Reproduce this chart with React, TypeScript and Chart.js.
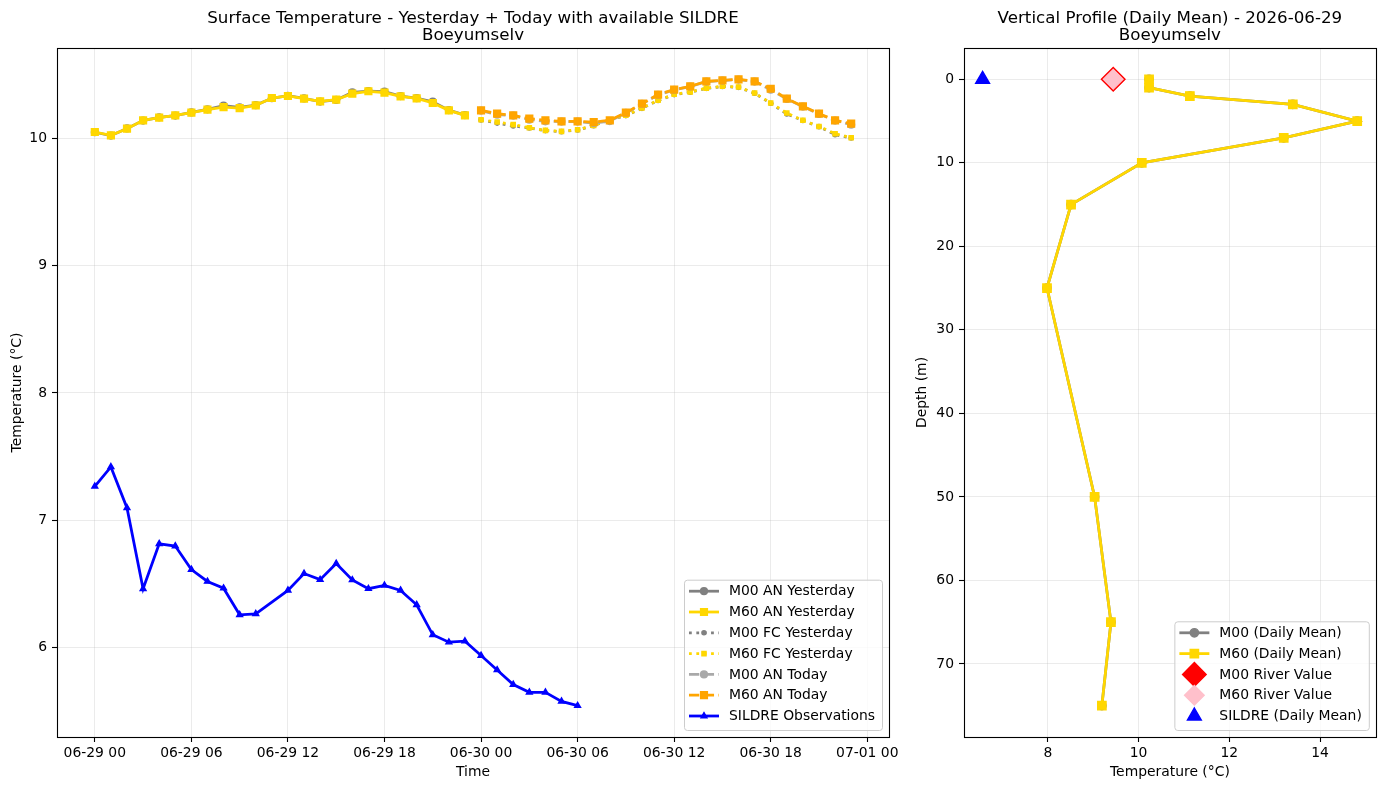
import React, { useEffect, useRef } from 'react';
import { Chart, registerables } from 'chart.js';

Chart.register(...registerables);

// ---------------- DATA ----------------
const xTickHours = [0, 6, 12, 18, 24, 30, 36, 42, 48];
const xTickLabels = ['06-29 00', '06-29 06', '06-29 12', '06-29 18', '06-30 00', '06-30 06', '06-30 12', '06-30 18', '07-01 00'];
const leftYTicks = [6, 7, 8, 9, 10];

const yesterdayHours = [0, 1, 2, 3, 4, 5, 6, 7, 8, 9, 10, 11, 12, 13, 14, 15, 16, 17, 18, 19, 20, 21, 22, 23];
const todayHours = [24, 25, 26, 27, 28, 29, 30, 31, 32, 33, 34, 35, 36, 37, 38, 39, 40, 41, 42, 43, 44, 45, 46, 47];

const m00AnYesterday = [10.048, 10.022, 10.078, 10.14, 10.165, 10.179, 10.204, 10.228, 10.258, 10.244, 10.261, 10.315, 10.335, 10.314, 10.289, 10.302, 10.361, 10.372, 10.367, 10.332, 10.316, 10.288, 10.222, 10.183];
const m60AnYesterday = [10.05, 10.024, 10.076, 10.142, 10.163, 10.181, 10.202, 10.226, 10.246, 10.238, 10.259, 10.317, 10.333, 10.312, 10.291, 10.304, 10.351, 10.37, 10.359, 10.33, 10.314, 10.278, 10.22, 10.181];
const m00FcYesterday = [10.145, 10.12, 10.098, 10.082, 10.061, 10.053, 10.066, 10.1, 10.145, 10.179, 10.236, 10.297, 10.344, 10.362, 10.393, 10.407, 10.401, 10.354, 10.276, 10.191, 10.14, 10.092, 10.029, 10.003];
const m60FcYesterday = [10.147, 10.128, 10.108, 10.084, 10.063, 10.055, 10.068, 10.102, 10.147, 10.181, 10.238, 10.299, 10.346, 10.364, 10.395, 10.409, 10.403, 10.356, 10.278, 10.199, 10.142, 10.094, 10.037, 10.005];
const m00AnToday = [10.218, 10.186, 10.179, 10.147, 10.134, 10.132, 10.132, 10.12, 10.136, 10.2, 10.271, 10.342, 10.381, 10.407, 10.446, 10.454, 10.462, 10.446, 10.382, 10.31, 10.25, 10.192, 10.14, 10.108];
const m60AnToday = [10.22, 10.194, 10.181, 10.155, 10.142, 10.134, 10.134, 10.128, 10.142, 10.202, 10.273, 10.344, 10.383, 10.409, 10.448, 10.456, 10.464, 10.448, 10.39, 10.312, 10.252, 10.194, 10.142, 10.116];

const sildreHours = [0, 1, 2, 3, 4, 5, 6, 7, 8, 9, 10, 12, 13, 14, 15, 16, 17, 18, 19, 20, 21, 22, 23, 24, 25, 26, 27, 28, 29, 30];
const sildreObs = [7.266, 7.419, 7.097, 6.461, 6.815, 6.797, 6.613, 6.519, 6.466, 6.257, 6.265, 6.449, 6.581, 6.533, 6.66, 6.531, 6.462, 6.488, 6.449, 6.336, 6.1, 6.042, 6.05, 5.937, 5.824, 5.709, 5.648, 5.648, 5.577, 5.543];

const profileDepths = [0, 1, 2, 3, 5, 7, 10, 15, 25, 50, 65, 75];
const m00Profile = [10.23, 10.23, 11.13, 13.4, 14.82, 13.2, 10.07, 8.51, 7.98, 9.03, 9.39, 9.19];
const m60Profile = [10.23, 10.23, 11.13, 13.4, 14.82, 13.2, 10.07, 8.51, 7.98, 9.03, 9.39, 9.19];
const m00RiverValue = [9.44];
const m60RiverValue = [9.44];
const sildreDailyMean = [6.56];
const surfaceDepth = [0];

const rightXTicks = [8, 10, 12, 14];
const rightYTicks = [0, 10, 20, 30, 40, 50, 60, 70];

// ---------------- STYLE ----------------
const FONT = "'DejaVu Sans', 'Liberation Sans', sans-serif";
const GRID = 'rgba(176,176,176,0.32)';
const LW = 2.78;
const DOTTED = [2.78, 4.58];
const DASHED = [10.3, 4.45];
const EDGE = 1.39;

const pts = (xs: number[], ys: number[]) => xs.map((x, i) => ({ x, y: ys[i] }));

function drawMarker(ctx: CanvasRenderingContext2D, style: string, x: number, y: number, r: number, color: string, bw: number) {
  ctx.save();
  ctx.setLineDash([]);
  ctx.beginPath();
  if (style === 'circle') {
    ctx.arc(x, y, r, 0, Math.PI * 2);
  } else if (style === 'rect') {
    const s = Math.SQRT1_2 * r;
    ctx.rect(x - s, y - s, 2 * s, 2 * s);
  } else if (style === 'triangle') {
    ctx.moveTo(x, y - r);
    ctx.lineTo(x + 0.866 * r, y + 0.5 * r);
    ctx.lineTo(x - 0.866 * r, y + 0.5 * r);
    ctx.closePath();
  } else if (style === 'rectRot') {
    ctx.moveTo(x - r, y);
    ctx.lineTo(x, y - r);
    ctx.lineTo(x + r, y);
    ctx.lineTo(x, y + r);
    ctx.closePath();
  }
  ctx.fillStyle = color;
  ctx.fill();
  if (bw > 0) {
    ctx.lineWidth = bw;
    ctx.strokeStyle = color;
    ctx.stroke();
  }
  ctx.restore();
}

function framePlugin(titleLines: string[]) {
  return {
    id: 'mplFrame',
    afterDatasetsDraw(chart: any) {
      const { ctx, chartArea: a } = chart;
      ctx.save();
      ctx.strokeStyle = '#000';
      ctx.lineWidth = 1.1;
      ctx.strokeRect(Math.round(a.left) + 0.5, Math.round(a.top) + 0.5, Math.round(a.right - a.left), Math.round(a.bottom - a.top));
      ctx.restore();
    },
    afterDraw(chart: any) {
      const { ctx, chartArea: a } = chart;
      ctx.save();
      ctx.fillStyle = '#000';
      ctx.font = `16.7px ${FONT}`;
      ctx.textAlign = 'center';
      ctx.textBaseline = 'alphabetic';
      const cx = (a.left + a.right) / 2;
      titleLines.forEach((t, i) => ctx.fillText(t, cx, 22.7 + i * 17));
      ctx.restore();

      // legend
      const items = chart.data.datasets.map((d: any) => d);
      ctx.save();
      ctx.font = `13.9px ${FONT}`;
      let maxW = 0;
      items.forEach((d: any) => { maxW = Math.max(maxW, ctx.measureText(d.label).width); });
      const rowH = 20.8;
      const boxH = 11.5 + (items.length - 1) * rowH + 14;
      const boxW = 45 + maxW + 7;
      const bx = a.right - 7 - boxW;
      const by = a.bottom - 7 - boxH;
      ctx.beginPath();
      (ctx as any).roundRect(bx + 0.5, by + 0.5, boxW, boxH, 3);
      ctx.fillStyle = 'rgba(255,255,255,0.8)';
      ctx.fill();
      ctx.strokeStyle = '#cccccc';
      ctx.lineWidth = 1;
      ctx.stroke();
      items.forEach((d: any, i: number) => {
        const cy = by + 11.5 + i * rowH;
        const hx = bx + 5;
        if (d.showLine) {
          ctx.save();
          ctx.beginPath();
          ctx.setLineDash(d.borderDash || []);
          ctx.lineCap = 'butt';
          ctx.strokeStyle = d.borderColor;
          ctx.lineWidth = d.borderWidth;
          ctx.moveTo(hx, cy);
          ctx.lineTo(hx + 30, cy);
          ctx.stroke();
          ctx.restore();
        }
        drawMarker(ctx, d.pointStyle, hx + 15, cy, d.pointRadius, d.pointBackgroundColor, d.pointBorderWidth);
        ctx.fillStyle = '#000';
        ctx.textAlign = 'left';
        ctx.textBaseline = 'middle';
        ctx.fillText(d.label, bx + 45, cy + 0.5);
      });
      ctx.restore();
    },
  };
}

function lineDs(label: string, xs: number[], ys: number[], color: string, dash: number[], style: string, r: number, order: number, showLine = true) {
  return {
    label,
    data: pts(xs, ys),
    showLine,
    borderColor: color,
    backgroundColor: color,
    borderWidth: LW,
    borderDash: dash,
    pointStyle: style,
    pointRadius: r,
    pointBackgroundColor: color,
    pointBorderColor: color,
    pointBorderWidth: EDGE,
    tension: 0,
    order,
  };
}

function scaleOpts(min: number, max: number, ticks: number[], labels: string[], title: string, isX: boolean, size: number, titlePad: any, reverse = false) {
  return {
    type: 'linear',
    min,
    max,
    reverse,
    afterBuildTicks: (s: any) => { s.ticks = ticks.map((v) => ({ value: v })); },
    afterFit: (s: any) => {
      if (isX) s.height = size; else s.width = size;
      s.paddingLeft = 0; s.paddingRight = 0; s.paddingTop = 0; s.paddingBottom = 0;
    },
    ticks: {
      autoSkip: false,
      maxRotation: 0,
      color: '#000',
      padding: isX ? 3 : 5,
      font: { family: FONT, size: 13.9 },
      callback: (_v: any, i: number) => labels[i],
    },
    grid: { color: GRID, lineWidth: 0.8, tickColor: '#000', tickLength: 5, tickWidth: 1.1, drawTicks: true },
    border: { display: false },
    title: { display: true, text: title, color: '#000', font: { family: FONT, size: 13.9 }, padding: titlePad },
  };
}

function leftConfig(): any {
  return {
    type: 'scatter',
    data: {
      datasets: [
        lineDs('M00 AN Yesterday', yesterdayHours, m00AnYesterday, '#808080', [], 'circle', 3.4, 10),
        lineDs('M60 AN Yesterday', yesterdayHours, m60AnYesterday, '#ffd700', [], 'rect', 4.8, 9),
        lineDs('M00 FC Yesterday', todayHours, m00FcYesterday, '#808080', DOTTED, 'circle', 2.1, 8),
        lineDs('M60 FC Yesterday', todayHours, m60FcYesterday, '#ffd700', DOTTED, 'rect', 2.95, 7),
        lineDs('M00 AN Today', todayHours, m00AnToday, '#a9a9a9', DASHED, 'circle', 3.4, 6),
        lineDs('M60 AN Today', todayHours, m60AnToday, '#ffa500', DASHED, 'rect', 4.8, 5),
        lineDs('SILDRE Observations', sildreHours, sildreObs, '#0000ff', [], 'triangle', 3.4, 4),
      ],
    },
    options: {
      responsive: false,
      maintainAspectRatio: false,
      devicePixelRatio: 1,
      animation: false,
      events: [],
      layout: { padding: { left: 0, right: 11, top: 48, bottom: 0 } },
      plugins: { legend: { display: false }, tooltip: { enabled: false }, title: { display: false } },
      scales: {
        x: scaleOpts(-2.35, 49.35, xTickHours, xTickLabels, 'Time', true, 53, { top: 0, bottom: 9.6 }),
        y: scaleOpts(5.297, 10.71, leftYTicks, leftYTicks.map(String), 'Temperature (°C)', false, 57, { top: 9, bottom: 0 }),
      },
    },
    plugins: [framePlugin(['Surface Temperature - Yesterday + Today with available SILDRE', 'Boeyumselv'])],
  };
}

function rightConfig(): any {
  return {
    type: 'scatter',
    data: {
      datasets: [
        lineDs('M00 (Daily Mean)', m00Profile, profileDepths, '#808080', [], 'circle', 4.17, 10),
        lineDs('M60 (Daily Mean)', m60Profile, profileDepths, '#ffd700', [], 'rect', 5.9, 9),
        lineDs('M00 River Value', m00RiverValue, surfaceDepth, '#ff0000', [], 'rectRot', 11.8, 8, false),
        lineDs('M60 River Value', m60RiverValue, surfaceDepth, '#ffc0cb', [], 'rectRot', 9.8, 7, false),
        lineDs('SILDRE (Daily Mean)', sildreDailyMean, surfaceDepth, '#0000ff', [], 'triangle', 8.0, 6, false),
      ],
    },
    options: {
      responsive: false,
      maintainAspectRatio: false,
      devicePixelRatio: 1,
      animation: false,
      events: [],
      layout: { padding: { left: 0, right: 8, top: 48, bottom: 0 } },
      plugins: { legend: { display: false }, tooltip: { enabled: false }, title: { display: false } },
      scales: {
        x: scaleOpts(6.15, 15.23, rightXTicks, rightXTicks.map(String), 'Temperature (°C)', true, 53, { top: 0, bottom: 9.6 }),
        y: scaleOpts(-3.75, 78.75, rightYTicks, rightYTicks.map(String), 'Depth (m)', false, 64, { top: 14, bottom: 0 }, true),
      },
    },
    plugins: [framePlugin(['Vertical Profile (Daily Mean) - 2026-06-29', 'Boeyumselv'])],
  };
}

export default function App() {
  const leftRef = useRef<HTMLCanvasElement>(null);
  const rightRef = useRef<HTMLCanvasElement>(null);

  useEffect(() => {
    const c1 = new Chart(leftRef.current as HTMLCanvasElement, leftConfig());
    const c2 = new Chart(rightRef.current as HTMLCanvasElement, rightConfig());
    return () => {
      c1.destroy();
      c2.destroy();
    };
  }, []);

  return (
    <div style={{ position: 'absolute', left: 0, top: 0, width: 1389, height: 790, background: '#fff', overflow: 'hidden' }}>
      <canvas ref={leftRef} width={900} height={790} style={{ position: 'absolute', left: 0, top: 0, width: 900, height: 790 }} />
      <canvas ref={rightRef} width={489} height={790} style={{ position: 'absolute', left: 900, top: 0, width: 489, height: 790 }} />
    </div>
  );
}
